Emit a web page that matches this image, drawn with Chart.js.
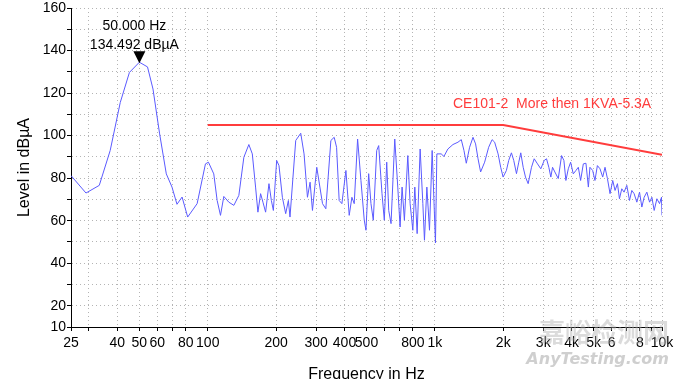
<!DOCTYPE html>
<html><head><meta charset="utf-8">
<script src="https://cdn.jsdelivr.net/npm/chart.js@4.4.0/dist/chart.umd.min.js"></script>
<style>html,body{margin:0;padding:0;background:#fff;overflow:hidden}</style>
</head><body>
<canvas id="c" width="680" height="379"></canvas>
<script>
// ---- data ----
const freqs = [
25,29.1,33.3,37.2,41.2,45.2,50,54.3,57.4,61.4,65.7,69.6,73.2,77.1,81.6,89.8,97.7,100.7,
106.3,110,113.8,117.7,123.8,130.3,137.1,144.2,151.7,157.1,162.4,166.3,170.9,175,179.8,186,190.6,194.5,201.1,205.9,213.1,220.4,226.5,230.2,244,256.7,265.5,274.8,282.2,289.1,302,
320.1,331.1,348.4,360.3,369.2,379,389.6,405.8,419.6,431.2,441.5,456.9,472.6,488.8,497.3,511.1,523.2,535.6,554.5,565.8,585.1,599,613.8,626.4,641.2,665.9,686.5,702.8,717.2,734.2,760,778,799.7,816.1,835.5,861.4,885.3,899.9,922.1,946.9,972.9,1006,1020.5,
1066,1096,1141,1201,1264,1307,1343,1375,1422,1472,1511,1549,1590,1656,1725,1786,1833,1898,1949,1997,2065,2114,2173,2225,2287,2341,2389,2448,2506,2575,2663,2737,2831,2927,3029,3101,3175,3240,
3297,3375,3494,3613,3699,3775,3868,3960,4068,4178,4281,4382,4504,4625,4740,4817,4951,5068,5194,5333,5482,5612,5751,5905,6069,6213,6367,6497,6651,6808,6999,7193,7364,7538,7748,7964,8152,8345,8578,8817,9025,9238,9496,9757,9950,10000
];
const levels = [
81.2,73.0,76.6,93,115.6,129.7,134.5,132.3,121.9,100.8,82,75.8,67.7,71.1,61.7,68,86.7,87.5,
82,69.5,62.5,71.4,68.7,67.2,71.9,89.8,95.8,91.4,75.8,64,72.7,68.7,64,77.4,69.5,64.8,88.3,85.9,71,63.3,69.5,61.7,97.7,101.1,91.4,71,78.1,64.8,85.1,
68,65.6,97.7,99.2,94.5,69.5,68,83.6,62.5,71,68,98.4,78.9,60.2,55.5,82.1,68,60.2,93,95.3,72.7,60.2,87.5,64.8,58.6,98.4,75.8,57,75.8,60.2,90.6,68,55.5,75.8,53.9,93.7,68,50.8,75.8,55.5,93,49.5,91.4,
91.4,90.2,93.7,95.8,96.9,98.1,93,87,94.5,99.2,96.1,89.1,82.9,87.5,94.5,98.1,96.9,91.4,85.1,80.5,83.6,88.3,91.9,88.3,82.1,87.5,91.9,85.1,80.5,77.4,85.1,89.1,86.7,84.4,88.3,89.1,85.1,80.5,
85.1,82.9,79.8,90.6,88.3,78.9,84.4,87.5,82,83.6,85.1,78.9,86.7,87,75.8,85.1,83.6,78.9,85.9,84.4,80.5,85.1,79.8,72.7,78.9,74.2,77.4,70.3,75,73.4,76.6,69.5,74.2,72.7,68.7,73.4,66.4,71,73.4,68.7,71,64.8,70.3,68,71,62.5
];
const limitFreqs = [100, 2000, 10000];
const limitLevels = [105, 105, 91];
const limitName = 'CE101-2  More then 1KVA-5.3A';
const markerFreq = 50;
const markerLevel = 134.492;
const markerLines = ['50.000 Hz', '134.492 dB\u00B5A'];
const xTickValues = [25,30,40,50,60,70,80,100,200,300,400,500,600,700,800,1000,2000,3000,4000,5000,6000,7000,8000,9000,10000];
const xTickLabels = ['25','','40','50','60','','80','100','200','300','400','500','','','800','1k','2k','3k','4k','5k','6','','8','','10k'];
const yTickValues = [10,20,30,40,50,60,70,80,90,100,110,120,130,140,150,160];
const yTickLabels = ['10','20','','40','','60','','80','','100','','120','','140','','160'];
const xTitle = 'Frequency in Hz';
const yTitle = 'Level in dB\u00B5A';
const watermark1 = '嘉峪检测网';
const watermark2 = 'AnyTesting.com';

const FONT = "'Liberation Sans', Arial, sans-serif";

const overlay = {
  id: 'overlay',
  afterDatasetsDraw(chart) {
    const ctx = chart.ctx, xs = chart.scales.x, ys = chart.scales.y;
    const px = xs.getPixelForValue(markerFreq), py = ys.getPixelForValue(markerLevel);
    ctx.save();
    // marker triangle
    ctx.fillStyle = '#000';
    ctx.beginPath();
    ctx.moveTo(px - 6, py - 11);
    ctx.lineTo(px + 6, py - 11);
    ctx.lineTo(px, py + 1);
    ctx.closePath();
    ctx.fill();
    ctx.font = '14px ' + FONT;
    ctx.textAlign = 'center';
    ctx.textBaseline = 'middle';
    ctx.fillText(markerLines[0], px - 5, py - 36);
    ctx.fillText(markerLines[1], px - 5, py - 17);
    // limit label
    ctx.fillStyle = 'rgb(255,60,60)';
    ctx.textAlign = 'left';
    ctx.fillText(limitName, 453, 104);
    ctx.restore();
  },
  afterDraw(chart) {
    const ctx = chart.ctx;
    ctx.save();
    ctx.textAlign = 'right';
    ctx.textBaseline = 'alphabetic';
    ctx.fillStyle = 'rgba(175,175,175,0.45)';
    ctx.font = "bold 26px 'Noto Sans CJK SC', sans-serif";
    ctx.fillText(watermark1, 669, 342);
    ctx.font = "italic bold 16px 'DejaVu Sans', sans-serif";
    ctx.fillStyle = 'rgba(175,175,175,0.6)';
    ctx.fillText(watermark2, 669, 364);
    ctx.restore();
  }
};

new Chart(document.getElementById('c'), {
  type: 'line',
  data: {
    datasets: [
      { label: 'Trace', data: freqs.map((f, i) => ({x: f, y: levels[i]})),
        borderColor: 'rgb(90,90,255)', borderWidth: 1, pointRadius: 0, tension: 0, fill: false },
      { label: 'Limit', data: limitFreqs.map((f, i) => ({x: f, y: limitLevels[i]})),
        borderColor: 'rgb(255,60,60)', borderWidth: 2, pointRadius: 0, tension: 0, fill: false }
    ]
  },
  options: {
    responsive: false,
    animation: false,
    layout: { padding: { left: 0, right: 18, top: 7, bottom: 0 } },
    plugins: { legend: { display: false }, tooltip: { enabled: false } },
    scales: {
      x: {
        type: 'logarithmic', min: 25, max: 10000,
        afterBuildTicks: s => { s.ticks = xTickValues.map(v => ({value: v})); },
        afterFit: s => { s.height = 52; },
        ticks: {
          autoSkip: false, maxRotation: 0, minRotation: 0, color: '#000', padding: 5,
          font: { family: FONT, size: 14, lineHeight: 1 },
          callback: (v) => { const i = xTickValues.indexOf(v); return i >= 0 ? xTickLabels[i] : ''; }
        },
        grid: { color: '#b4b4b4', tickColor: '#000', tickLength: 4, tickBorderDash: [], lineWidth: 1 },
        border: { display: true, color: '#000', width: 1, dash: [1, 3] },
        title: { display: true, text: xTitle, color: '#000', font: { family: FONT, size: 16 }, padding: { top: 0, bottom: -5 } }
      },
      y: {
        type: 'linear', min: 10, max: 160,
        afterBuildTicks: s => { s.ticks = yTickValues.map(v => ({value: v})); },
        afterFit: s => { s.width = 71; },
        ticks: {
          autoSkip: false, color: '#000', padding: 1,
          font: { family: FONT, size: 14, lineHeight: 1 },
          callback: (v) => { const i = yTickValues.indexOf(v); return i >= 0 ? yTickLabels[i] : ''; }
        },
        grid: { color: '#b4b4b4', tickColor: '#000', tickLength: 4, tickBorderDash: [], lineWidth: 1 },
        border: { display: true, color: '#000', width: 1, dash: [1, 3] },
        title: { display: true, text: yTitle, color: '#000', font: { family: FONT, size: 16 }, padding: { top: 15, bottom: 0 } }
      }
    }
  },
  plugins: [overlay]
});
</script>
</body></html>
